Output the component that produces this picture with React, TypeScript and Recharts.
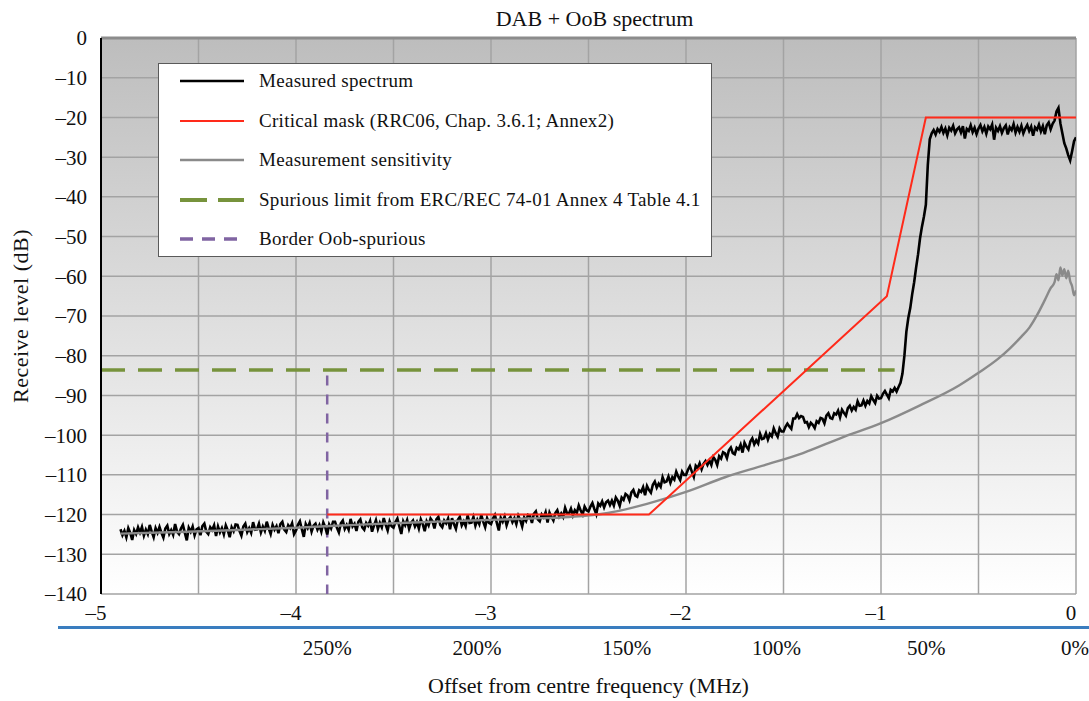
import { LineChart, Line, XAxis, YAxis, CartesianGrid, Legend, Label, ReferenceLine } from 'recharts';

// Spectrum analyser sweep: first bin and bin width (MHz from centre)
const sweepStartMHz = -4.9;
const binMHz = 0.01;

// Measured receive level per bin (dB), one row per 0.1 MHz
const spectrumDb = [
  -123.7, -125.2, -124.1, -125.7, -123.4, -124.6, -126.4, -123.9, -124.9, -123.2,
  -124.5, -123.1, -125.3, -123.8, -124.9, -122.6, -124.3, -125.7, -123.4, -124.6,
  -123.1, -124.6, -125.8, -123.5, -122.8, -124.9, -123.9, -125.1, -122.4, -124.3,
  -124.9, -123.5, -122.6, -124.6, -126.5, -123.3, -124.3, -123.0, -125.2, -123.7,
  -123.4, -125.2, -122.9, -122.3, -124.3, -124.9, -123.2, -123.9, -122.7, -125.4,
  -123.0, -124.5, -123.4, -125.0, -122.7, -123.9, -125.7, -123.2, -124.2, -122.5,
  -122.6, -124.1, -125.3, -123.0, -122.3, -124.4, -123.4, -124.6, -121.9, -123.8,
  -123.7, -122.3, -124.5, -123.0, -124.1, -121.8, -123.5, -124.9, -122.6, -123.8,
  -122.9, -124.7, -122.4, -121.8, -123.8, -124.4, -122.7, -123.4, -122.2, -124.9,
  -124.0, -122.6, -121.7, -123.7, -125.6, -122.4, -123.4, -122.1, -124.3, -122.8,
  -122.3, -123.8, -122.7, -124.3, -122.0, -123.2, -125.0, -122.5, -123.5, -121.8,
  -121.8, -123.3, -124.5, -122.2, -121.5, -123.6, -122.6, -123.8, -121.1, -123.0,
  -122.3, -124.1, -121.8, -121.2, -123.2, -123.8, -122.1, -122.8, -121.6, -124.3,
  -122.8, -121.4, -123.6, -122.1, -123.2, -120.9, -122.6, -124.0, -121.7, -122.9,
  -123.3, -121.9, -121.0, -123.0, -124.9, -121.7, -122.7, -121.4, -123.6, -122.1,
  -121.5, -123.0, -121.9, -123.5, -121.2, -122.4, -124.2, -121.7, -122.7, -121.0,
  -121.7, -123.5, -121.2, -120.6, -122.6, -123.2, -121.5, -122.2, -121.0, -123.7,
  -120.9, -122.4, -123.6, -121.3, -120.6, -122.7, -121.7, -122.9, -120.2, -122.1,
  -122.0, -120.6, -122.8, -121.3, -122.4, -120.1, -121.8, -123.2, -120.9, -122.1,
  -122.4, -121.0, -120.1, -122.1, -124.0, -120.8, -121.8, -120.5, -122.7, -121.2,
  -120.6, -121.9, -120.9, -122.4, -120.3, -121.4, -123.0, -120.7, -121.6, -120.1,
  -120.4, -122.1, -119.8, -119.2, -121.2, -121.7, -120.0, -120.7, -119.4, -122.0,
  -119.5, -120.6, -121.5, -119.6, -118.9, -120.5, -119.7, -120.6, -118.3, -119.7,
  -119.7, -118.5, -120.2, -118.9, -119.6, -117.7, -119.0, -120.0, -118.0, -118.9,
  -119.2, -118.0, -117.1, -118.6, -119.9, -117.2, -117.8, -116.7, -118.2, -116.9,
  -116.5, -117.6, -116.5, -117.7, -115.7, -116.5, -117.8, -115.7, -116.3, -114.8,
  -115.2, -116.4, -114.4, -113.8, -115.2, -115.5, -113.9, -114.3, -113.1, -115.1,
  -112.8, -113.8, -114.5, -112.5, -111.7, -113.2, -112.2, -113.0, -110.6, -111.9,
  -111.7, -110.4, -112.0, -110.6, -111.2, -109.2, -110.4, -111.3, -109.2, -110.0,
  -110.0, -108.7, -107.8, -109.2, -110.5, -107.7, -108.3, -107.1, -108.6, -107.2,
  -106.5, -107.5, -106.4, -107.5, -105.5, -106.2, -107.5, -105.3, -105.9, -104.3,
  -104.6, -105.8, -103.8, -103.1, -104.5, -104.8, -103.2, -103.6, -102.4, -104.4,
  -101.9, -102.9, -103.6, -101.6, -100.8, -102.3, -101.3, -102.1, -99.7, -101.0,
  -100.8, -99.5, -101.1, -99.7, -100.3, -98.3, -99.5, -100.4, -98.3, -99.1,
  -99.1, -97.9, -97.1, -97.8, -98.4, -95.8, -95.8, -94.7, -95.7, -95.2,
  -95.4, -96.8, -96.7, -98.0, -96.9, -97.4, -98.2, -96.5, -96.9, -95.7,
  -95.9, -97.0, -95.1, -94.5, -95.7, -95.9, -94.5, -94.8, -93.8, -95.5,
  -93.6, -94.4, -95.1, -93.2, -92.6, -93.8, -92.9, -93.6, -91.5, -92.6,
  -92.5, -91.3, -92.6, -91.4, -92.0, -90.2, -91.1, -91.9, -90.1, -90.8,
  -90.7, -89.6, -88.9, -89.8, -90.7, -88.6, -89.0, -88.1, -89.0, -87.9,
  -86.8, -84.5, -80.0, -74.0, -70.5, -68.0, -64.5, -61.5, -57.8, -54.5,
  -50.5, -47.5, -45.0, -42.0, -32.0, -25.5, -24.0, -23.2, -24.3, -22.9,
  -23.6, -22.4, -23.9, -22.8, -24.5, -22.6, -23.3, -22.1, -24.0, -23.0,
  -22.5, -23.8, -22.2, -25.3, -22.9, -23.4, -22.0, -23.7, -22.6, -24.2,
  -22.8, -21.9, -23.5, -22.4, -24.1, -22.3, -23.0, -21.8, -25.6, -22.6,
  -23.4, -22.2, -23.9, -22.7, -22.0, -24.3, -22.5, -23.2, -21.7, -23.8,
  -22.4, -23.6, -22.1, -24.0, -22.8, -21.9, -23.4, -22.3, -24.6, -22.5,
  -23.1, -21.8, -23.5, -22.2, -24.2, -22.0, -21.3, -23.0, -21.6, -20.8,
  -18.5, -17.6, -21.5, -24.0, -26.5, -27.8, -29.5, -30.8, -28.5, -26.0,
  -25.0,
];

// Measurement sensitivity (noise floor of the receiver)
const sensFreq = [
  -4.9, -4.6, -4.3, -4.0, -3.7, -3.4, -3.1, -2.8, -2.6, -2.4, -2.2, -2.0, -1.8, -1.6,
  -1.4, -1.2, -1.0, -0.8, -0.6, -0.5, -0.4, -0.34, -0.28, -0.24, -0.2, -0.16, -0.13,
  -0.11, -0.1, -0.09, -0.08, -0.07, -0.06, -0.05, -0.04, -0.03, -0.02, -0.01, 0,
];
const sensDb = [
  -124.8, -124.4, -123.9, -123.3, -122.6, -122.0, -121.5, -121.0, -120.6, -119.6, -117.3,
  -114.3, -110.6, -107.6, -104.5, -100.6, -97.0, -92.5, -87.5, -84.3, -80.8, -78.2, -75.2,
  -73.0, -69.8, -66.0, -63.0, -61.5, -59.5, -61.0, -57.8, -59.8, -58.2, -60.5, -58.6,
  -61.2, -62.5, -64.8, -63.5,
];

// Critical mask (RRC06)
const maskFreq = [-3.84, -2.19, -0.97, -0.77, 0];
const maskDb = [-120, -120, -65, -20, -20];

// Spurious limit and out-of-band / spurious border
const spuriousFreq = [-5, -0.93];
const spuriousDb = [-83.6, -83.6];
const borderFreq = [-3.84, -3.84];
const borderDb = [-85, -140];

const freqTicks = [-5, -4.5, -4, -3.5, -3, -2.5, -2, -1.5, -1, -0.5, 0];
const levelTicks = [0, -10, -20, -30, -40, -50, -60, -70, -80, -90, -100, -110, -120, -130, -140];
const pctTicks = [-3.84, -3.072, -2.304, -1.536, -0.768, 0];
const pctLabels = ['250%', '200%', '150%', '100%', '50%', '0%'];

const spectrum = spectrumDb.map((db, i) => ({ f: +(sweepStartMHz + i * binMHz).toFixed(3), db }));
const sensitivity = sensFreq.map((f, i) => ({ f, db: sensDb[i] }));
const mask = maskFreq.map((f, i) => ({ f, db: maskDb[i] }));
const spurious = spuriousFreq.map((f, i) => ({ f, db: spuriousDb[i] }));
const border = borderFreq.map((f, i) => ({ f, db: borderDb[i] }));

const FONT = '"Liberation Serif", "Times New Roman", serif';

const legendItems = [
  { name: 'Measured spectrum', color: '#000000', width: 2.5, dash: undefined as string | undefined },
  { name: 'Critical mask (RRC06, Chap. 3.6.1; Annex2)', color: '#ff2a1a', width: 2, dash: undefined },
  { name: 'Measurement sensitivity', color: '#8a8a8a', width: 2.5, dash: undefined },
  { name: 'Spurious limit from ERC/REC 74-01 Annex 4 Table 4.1', color: '#77933c', width: 4, dash: '27 11' },
  { name: 'Border Oob-spurious', color: '#8064a2', width: 3.5, dash: '13 9' },
];

const minus = (v: number) => (v < 0 ? `\u2013${-v}` : `${v}`);

function ChartLegend() {
  return (
    <div
      style={{
        width: 554,
        height: 194,
        background: '#fff',
        border: '1px solid #5a5a5a',
        boxSizing: 'border-box',
        position: 'relative',
        fontFamily: FONT,
        fontSize: 19,
        color: '#111',
      }}
    >
      {legendItems.map((item, i) => (
        <div
          key={item.name}
          style={{ position: 'absolute', left: 20, top: 4 + i * 39.5, height: 26, display: 'flex', alignItems: 'center', whiteSpace: 'nowrap' }}
        >
          <svg width={66} height={10}>
            <line x1={1} y1={5} x2={65} y2={5} stroke={item.color} strokeWidth={item.width} strokeDasharray={item.dash} />
          </svg>
          <span style={{ marginLeft: 14, letterSpacing: 0.3 }}>{item.name}</span>
        </div>
      ))}
    </div>
  );
}

export default function App() {
  return (
    <div style={{ position: 'absolute', left: 0, top: 0, width: 1089, height: 701, background: '#fff', fontFamily: FONT }}>
      <div style={{ position: 'absolute', left: 0, width: 1189, top: 6, textAlign: 'center', fontSize: 22, lineHeight: '26px', color: '#111' }}>
        DAB + OoB spectrum
      </div>
      <LineChart width={1089} height={701} margin={{ top: 38, right: 13, bottom: 0, left: 0 }}>
        <defs>
          <linearGradient id="plotBg" x1="0" y1="0" x2="0" y2="1">
            <stop offset="0%" stopColor="#bdbdbd" />
            <stop offset="100%" stopColor="#ffffff" />
          </linearGradient>
        </defs>
        <CartesianGrid fill="url(#plotBg)" fillOpacity={1} stroke="#a3a3a3" strokeWidth={1.5} />
        <XAxis
          dataKey="f"
          type="number"
          domain={[-5, 0]}
          ticks={freqTicks}
          allowDataOverflow
          height={34}
          axisLine={false}
          tickLine={false}
          tickSize={0}
          tickMargin={11}
          tickFormatter={(v: number) => (Number.isInteger(v) ? minus(v) : '')}
          tick={{ fontSize: 21, fill: '#111', fontFamily: FONT, dx: -5 }}
        />
        <XAxis
          xAxisId="pct"
          dataKey="f"
          type="number"
          domain={[-5, 0]}
          ticks={pctTicks}
          allowDataOverflow
          height={73}
          axisLine={false}
          tickLine={false}
          tickSize={0}
          tickMargin={12}
          tickFormatter={(v: number) => pctLabels[pctTicks.indexOf(v)] ?? ''}
          tick={{ fontSize: 21, fill: '#111', fontFamily: FONT }}
        >
          <Label value="Offset from centre frequency (MHz)" position="insideBottom" offset={8} style={{ fontSize: 22, fill: '#111', fontFamily: FONT }} />
        </XAxis>
        <YAxis
          type="number"
          domain={[-140, 0]}
          ticks={levelTicks}
          width={101}
          axisLine={{ stroke: '#000', strokeWidth: 2 }}
          tickLine={false}
          tickSize={0}
          tickMargin={14}
          tickFormatter={minus}
          tick={{ fontSize: 21, fill: '#111', fontFamily: FONT }}
        >
          <Label
            content={() => (
              <text
                x={20}
                y={316}
                transform="rotate(-90 20 316)"
                textAnchor="middle"
                dominantBaseline="central"
                style={{ fontSize: 22, fill: '#111', fontFamily: FONT, letterSpacing: 0.5 }}
              >
                Receive level (dB)
              </text>
            )}
          />
        </YAxis>
        <Legend
          layout="horizontal"
          verticalAlign="middle"
          align="center"
          content={() => <ChartLegend />}
          wrapperStyle={{ left: 158, top: 63, width: 554, height: 194 }}
        />
        {/* darker frame line along the top of the plot */}
        <ReferenceLine y={0} stroke="#8c8c8c" strokeWidth={3} />
        <Line data={spurious} dataKey="db" stroke="#77933c" strokeWidth={3.5} strokeDasharray="24 13" dot={false} activeDot={false} isAnimationActive={false} legendType="none" />
        <Line data={border} dataKey="db" stroke="#8064a2" strokeWidth={2.5} strokeDasharray="10 9" dot={false} activeDot={false} isAnimationActive={false} legendType="none" />
        <Line data={spectrum} dataKey="db" stroke="#000" strokeWidth={2.6} dot={false} activeDot={false} isAnimationActive={false} legendType="none" />
        <Line data={sensitivity} dataKey="db" type="monotone" stroke="#8a8a8a" strokeWidth={2.4} dot={false} activeDot={false} isAnimationActive={false} legendType="none" />
        <Line data={mask} dataKey="db" stroke="#ff2a1a" strokeWidth={2} dot={false} activeDot={false} isAnimationActive={false} legendType="none" />
      </LineChart>
      <div style={{ position: 'absolute', left: 58, top: 626, width: 1031, height: 3, background: '#3a7dbf' }} />
    </div>
  );
}
